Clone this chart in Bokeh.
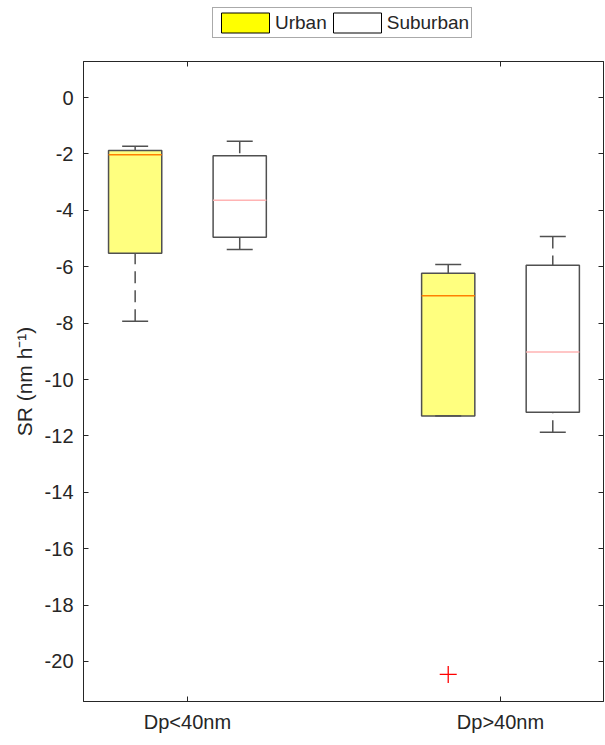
from bokeh.plotting import figure
from bokeh.layouts import column
from bokeh.models import (LinearAxis, FixedTicker, Range1d, Legend, LegendItem,
                          ColumnDataSource)
from bokeh.embed import file_html
from bokeh.resources import INLINE

# ---- data ----
categories = ["Dp<40nm", "Dp>40nm"]
y_ticks = [0, -2, -4, -6, -8, -10, -12, -14, -16, -18, -20]

urban_upper = [-1.73, -5.92]
urban_q3 = [-1.88, -6.23]
urban_median = [-2.03, -7.03]
urban_q1 = [-5.52, -11.29]
urban_lower = [-7.93, -11.29]
urban_outlier_cat = [2]
urban_outlier_val = [-20.46]

suburban_upper = [-1.55, -4.93]
suburban_q3 = [-2.06, -5.95]
suburban_median = [-3.64, -9.02]
suburban_q1 = [-4.95, -11.16]
suburban_lower = [-5.39, -11.87]

series_names = ["Urban", "Suburban"]

FONT = "Liberation Sans"
TXT = "#262626"
EDGE = "#505050"
offset = 0.167
box_w = 0.17
cap_w = 0.083

TOP_H = 61

p = figure(width=605, height=745 - TOP_H, x_range=Range1d(0.668, 2.329),
           y_range=Range1d(-21.42, 1.28), output_backend="svg",
           toolbar_location=None, min_border_left=83, min_border_right=2,
           min_border_top=0, min_border_bottom=44)
p.xgrid.visible = False
p.ygrid.visible = False
p.outline_line_color = TXT
p.background_fill_color = "white"


def draw_group(upper, q3, med, q1, lower, shift, fill, fill_alpha, med_color):
    xs = [i + 1 + shift for i in range(len(categories))]
    src = ColumnDataSource(dict(
        x=xs,
        left=[x - box_w / 2 for x in xs], right=[x + box_w / 2 for x in xs],
        cl=[x - cap_w / 2 for x in xs], cr=[x + cap_w / 2 for x in xs],
        upper=upper, q3=q3, med=med, q1=q1, lower=lower))
    p.quad(left="left", right="right", top="q3", bottom="q1", source=src,
           fill_color=fill, fill_alpha=fill_alpha, line_color=EDGE, line_width=1.5)
    p.segment(x0="left", x1="right", y0="med", y1="med", source=src,
              line_color=med_color, line_width=1.5)
    # whiskers drawn from the cap toward the box
    p.segment(x0="x", x1="x", y0="upper", y1="q3", source=src,
              line_color=EDGE, line_width=1.5, line_dash="12 7")
    p.segment(x0="x", x1="x", y0="lower", y1="q1", source=src,
              line_color=EDGE, line_width=1.5, line_dash="12 7")
    p.segment(x0="cl", x1="cr", y0="upper", y1="upper", source=src,
              line_color=EDGE, line_width=1.5)
    p.segment(x0="cl", x1="cr", y0="lower", y1="lower", source=src,
              line_color=EDGE, line_width=1.5)


draw_group(urban_upper, urban_q3, urban_median, urban_q1, urban_lower,
           -offset, "#FFFF00", 0.5, "#FF8000")
draw_group(suburban_upper, suburban_q3, suburban_median, suburban_q1, suburban_lower,
           offset, "white", 0.0, "#FFB3B3")

p.scatter(x=[c - offset for c in urban_outlier_cat], y=urban_outlier_val,
          marker="cross", size=17, line_color="red", line_width=1.3)

# axes
xt = FixedTicker(ticks=[1, 2])
yt = FixedTicker(ticks=y_ticks)
p.xaxis.ticker = xt
p.xaxis.major_label_overrides = {i + 1: c for i, c in enumerate(categories)}
p.yaxis.ticker = yt
p.yaxis.major_label_overrides = {t: str(t) for t in y_ticks}
p.yaxis.axis_label = "SR (nm h\u207b\u00b9)"
for ax in (p.xaxis[0], p.yaxis[0]):
    ax.major_tick_in = 5
    ax.major_tick_out = 0
    ax.minor_tick_in = 0
    ax.minor_tick_out = 0
    ax.axis_line_color = TXT
    ax.major_tick_line_color = TXT
    ax.major_label_text_font = FONT
    ax.major_label_text_font_size = "20px"
    ax.major_label_text_color = TXT
    ax.axis_label_text_font = FONT
    ax.axis_label_text_font_size = "21px"
    ax.axis_label_text_font_style = "normal"
    ax.axis_label_text_color = TXT
p.yaxis.major_label_standoff = 10
p.yaxis.axis_label_standoff = 6
p.xaxis.major_label_standoff = 9

right_ax = LinearAxis(ticker=yt, major_tick_in=5, major_tick_out=0,
                      minor_tick_in=0, minor_tick_out=0,
                      major_label_overrides={t: "" for t in y_ticks},
                      major_label_standoff=0,
                      axis_line_color=TXT, major_tick_line_color=TXT)
p.add_layout(right_ax, "right")
top_ax = LinearAxis(ticker=xt, major_tick_in=5, major_tick_out=0,
                    minor_tick_in=0, minor_tick_out=0,
                    major_label_overrides={1: "", 2: ""},
                    major_label_standoff=0,
                    axis_line_color=TXT, major_tick_line_color=TXT)
p.add_layout(top_ax, "above")

# ---- legend strip above the axes ----
lf = figure(width=605, height=TOP_H, x_range=Range1d(0, 1), y_range=Range1d(0, 1),
            output_backend="svg", toolbar_location=None, min_border_left=83,
            min_border_right=2, min_border_top=0, min_border_bottom=0)
lf.axis.visible = False
lf.grid.visible = False
lf.outline_line_color = None
nan = float("nan")
leg_u = lf.quad(left=[nan], right=[nan], top=[nan], bottom=[nan],
                fill_color="#FFFF00", line_color="black", line_width=1)
leg_s = lf.quad(left=[nan], right=[nan], top=[nan], bottom=[nan],
                fill_color="white", line_color="black", line_width=1)
legend = Legend(items=[LegendItem(label=series_names[0], renderers=[leg_u]),
                       LegendItem(label=series_names[1], renderers=[leg_s])],
                orientation="horizontal", location=(129, 23),
                glyph_width=60, glyph_height=25, label_standoff=-3, spacing=0,
                padding=2, margin=0, label_text_font=FONT,
                label_text_font_size="19px", label_text_color=TXT,
                border_line_color="#555555", border_line_width=1.5,
                background_fill_color="white", background_fill_alpha=1.0)
lf.add_layout(legend, "center")

layout = column(lf, p, spacing=0)
open("out.html", "w").write(file_html(layout, INLINE))
